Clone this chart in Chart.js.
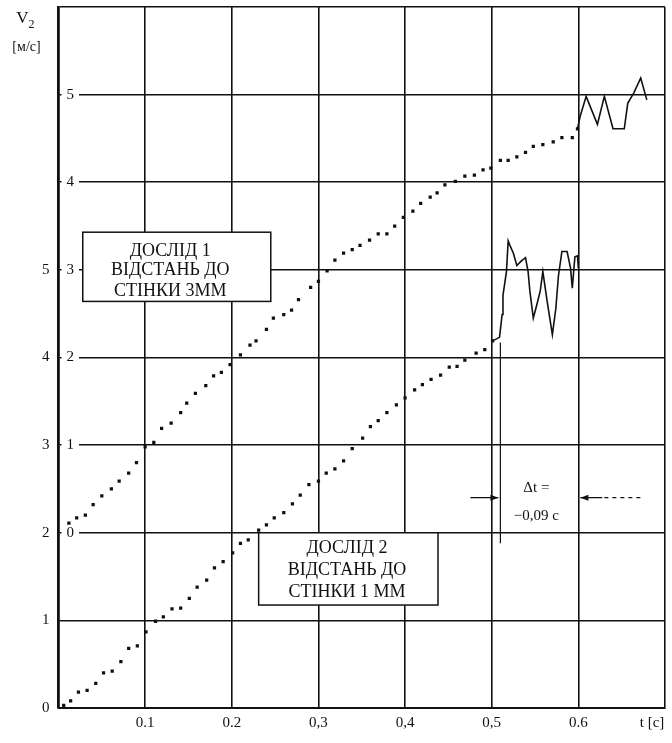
<!DOCTYPE html>
<html>
<head>
<meta charset="utf-8">
<script src="https://cdn.jsdelivr.net/npm/chart.js@4.4.1/dist/chart.umd.min.js"></script>
<style>
    html, body { margin: 0; padding: 0; background: #fff; }
    #wrap { width: 672px; height: 743px; }
</style>
</head>
<body>
<div id="wrap"><canvas id="speed-chart" width="672" height="743"></canvas></div>
<script>
// Дослід 1 (відстань до стінки 3 мм) - шкала зсунута на 2 поділки вгору
const exp1T = [0.012, 0.021, 0.031, 0.040, 0.050, 0.061, 0.070, 0.081, 0.090, 0.100,
    0.110, 0.119, 0.130, 0.141, 0.148, 0.158, 0.170, 0.179, 0.188, 0.198,
    0.210, 0.221, 0.228, 0.240, 0.248, 0.260, 0.269, 0.277, 0.291, 0.300,
    0.310, 0.319, 0.329, 0.339, 0.348, 0.359, 0.369, 0.379, 0.388, 0.398,
    0.409, 0.418, 0.429, 0.437, 0.446, 0.458, 0.469, 0.480, 0.490, 0.499,
    0.510, 0.519, 0.529, 0.539, 0.548, 0.559, 0.571, 0.581, 0.593, 0.599];
const exp1V = [0.11, 0.17, 0.20, 0.32, 0.42, 0.50, 0.59, 0.68, 0.80, 0.98,
    1.03, 1.19, 1.25, 1.37, 1.48, 1.59, 1.68, 1.79, 1.83, 1.92,
    2.03, 2.14, 2.19, 2.32, 2.45, 2.49, 2.54, 2.66, 2.80, 2.87,
    2.99, 3.11, 3.19, 3.23, 3.28, 3.34, 3.41, 3.41, 3.50, 3.60,
    3.67, 3.76, 3.83, 3.88, 3.97, 4.01, 4.07, 4.08, 4.14, 4.16,
    4.25, 4.25, 4.29, 4.34, 4.41, 4.43, 4.46, 4.51, 4.51, 4.61];
const exp1PulseT = [0.599, 0.602, 0.609, 0.622, 0.630, 0.640, 0.653, 0.657, 0.664, 0.672, 0.679];
const exp1PulseV = [4.61, 4.75, 4.98, 4.66, 4.98, 4.61, 4.61, 4.90, 5.02, 5.19, 4.94];

// Дослід 2 (відстань до стінки 1 мм)
const exp2T = [0.006, 0.014, 0.023, 0.033, 0.043, 0.052, 0.062, 0.072, 0.081, 0.091,
    0.101, 0.112, 0.121, 0.131, 0.141, 0.151, 0.160, 0.171, 0.180, 0.190,
    0.201, 0.210, 0.219, 0.231, 0.240, 0.249, 0.260, 0.270, 0.279, 0.289,
    0.300, 0.309, 0.319, 0.329, 0.339, 0.351, 0.360, 0.369, 0.379, 0.390,
    0.400, 0.411, 0.420, 0.430, 0.441, 0.451, 0.460, 0.469, 0.482, 0.492, 0.501];
const exp2V = [0.03, 0.08, 0.18, 0.20, 0.28, 0.40, 0.42, 0.53, 0.68, 0.71,
    0.87, 0.99, 1.04, 1.13, 1.14, 1.25, 1.38, 1.46, 1.60, 1.67,
    1.77, 1.88, 1.92, 2.03, 2.09, 2.17, 2.23, 2.33, 2.43, 2.55,
    2.59, 2.68, 2.73, 2.82, 2.96, 3.08, 3.21, 3.28, 3.37, 3.46,
    3.54, 3.63, 3.69, 3.75, 3.80, 3.89, 3.90, 3.97, 4.05, 4.09, 4.19];
const exp2PulseT = [0.501, 0.509, 0.512, 0.513, 0.517, 0.519, 0.521, 0.525, 0.529, 0.534,
    0.539, 0.542, 0.544, 0.548, 0.552, 0.556, 0.559, 0.564, 0.570, 0.574,
    0.577, 0.581, 0.587, 0.591, 0.593, 0.596, 0.599, 0.600];
const exp2PulseV = [4.19, 4.23, 4.49, 4.71, 4.98, 5.33, 5.28, 5.19, 5.05, 5.10,
    5.14, 4.98, 4.76, 4.45, 4.60, 4.76, 4.98, 4.64, 4.26, 4.56,
    4.93, 5.21, 5.21, 5.02, 4.79, 5.15, 5.16, 5.02];

const xTickLabels = ["", "0.1", "0.2", "0,3", "0,4", "0,5", "0.6", ""];
const yTickLabels = ["0", "1", "2", "3", "4", "5"];
const yShiftedTickLabels = ["0", "1", "2", "3", "4", "5"];

const ink = "#111";
const serif = '"Liberation Serif", "DejaVu Serif", serif';

function pairs(xs, ys) {
    return xs.map((x, i) => ({x: x, y: ys[i]}));
}

// boxes and the delta-t marker, placed in data units of the x / y scales
const noteBoxes = [
    {x0: 0.028, x1: 0.245, y0: 4.64, y1: 5.43, cx: 0.129, lineOffsets: [19, 38, 59],
        lines: ["ДОСЛІД 1", "ВІДСТАНЬ ДО", "СТІНКИ 3ММ"]},
    {x0: 0.231, x1: 0.438, y0: 1.175, y1: 2.0, cx: 0.333, lineOffsets: [16, 38, 60],
        lines: ["ДОСЛІД 2", "ВІДСТАНЬ ДО", "СТІНКИ 1 ММ"]}
];
const deltaT = {t0: 0.510, t1: 0.600, level: 2.40, lineTop: 4.17, lineBottom: 1.88};

function arrowHead(ctx, x, y, dir) {
    ctx.beginPath();
    ctx.moveTo(x, y);
    ctx.lineTo(x - dir * 8, y - 3);
    ctx.lineTo(x - dir * 8, y + 3);
    ctx.closePath();
    ctx.fill();
}

const annotations = {
    id: "annotations",
    beforeDatasetsDraw(chart) {
        const {ctx, scales: {x, y}} = chart;
        ctx.save();
        noteBoxes.forEach(function (b) {
            const left = x.getPixelForValue(b.x0);
            const right = x.getPixelForValue(b.x1);
            const top = y.getPixelForValue(b.y1);
            const bottom = y.getPixelForValue(b.y0);
            ctx.fillStyle = "#fff";
            ctx.fillRect(left, top, right - left, bottom - top);
            ctx.strokeStyle = ink;
            ctx.lineWidth = 1.5;
            ctx.strokeRect(left, top, right - left, bottom - top);
            ctx.fillStyle = ink;
            ctx.font = "18px " + serif;
            ctx.textAlign = "center";
            ctx.textBaseline = "middle";
            b.lines.forEach(function (line, i) {
                ctx.fillText(line, x.getPixelForValue(b.cx), top + b.lineOffsets[i]);
            });
        });
        ctx.restore();
    },
    afterDraw(chart) {
        const {ctx, chartArea, scales: {x, y}} = chart;
        ctx.save();
        ctx.strokeStyle = ink;
        ctx.fillStyle = ink;
        ctx.lineWidth = 1.2;

        // delta t marker
        const xa = x.getPixelForValue(deltaT.t0);
        const xb = x.getPixelForValue(deltaT.t1);
        const ya = y.getPixelForValue(deltaT.level);
        ctx.beginPath();
        ctx.moveTo(xa, y.getPixelForValue(deltaT.lineTop));
        ctx.lineTo(xa, y.getPixelForValue(deltaT.lineBottom));
        ctx.moveTo(xa - 30, ya);
        ctx.lineTo(xa - 2, ya);
        ctx.moveTo(xb + 2, ya);
        ctx.lineTo(xb + 24, ya);
        ctx.stroke();
        ctx.setLineDash([4, 4]);
        ctx.beginPath();
        ctx.moveTo(xb + 26, ya);
        ctx.lineTo(xb + 62, ya);
        ctx.stroke();
        ctx.setLineDash([]);
        arrowHead(ctx, xa - 2, ya, 1);
        arrowHead(ctx, xb + 2, ya, -1);

        ctx.font = "15px " + serif;
        ctx.textAlign = "center";
        ctx.textBaseline = "middle";
        const xm = (xa + xb) / 2 - 3;
        ctx.fillText("Δt =", xm, ya - 10);
        ctx.fillText("−0,09 с", xm, ya + 18);

        // axis names
        ctx.font = "17px " + serif;
        ctx.fillText("V", chartArea.left - 36, chartArea.top + 12);
        ctx.font = "12px " + serif;
        ctx.fillText("2", chartArea.left - 27, chartArea.top + 18);
        ctx.font = "14px " + serif;
        ctx.fillText("[м/с]", chartArea.left - 32, chartArea.top + 40);
        ctx.font = "15px " + serif;
        ctx.fillText("t [с]", x.getPixelForValue(0.7) - 13, chartArea.bottom + 15);
        ctx.restore();
    }
};

const speedChart = new Chart(
    document.getElementById("speed-chart"),
    {
        type: "scatter",
        data: {
            datasets: [
                {
                    label: "Дослід 1",
                    data: pairs(exp1T, exp1V),
                    yAxisID: "y2",
                    pointStyle: "rect",
                    pointRadius: 2.3,
                    pointBorderWidth: 0,
                    pointBackgroundColor: ink,
                    showLine: false
                },
                {
                    label: "Дослід 1, пульсації",
                    data: pairs(exp1PulseT, exp1PulseV),
                    yAxisID: "y2",
                    showLine: true,
                    pointRadius: 0,
                    borderColor: ink,
                    borderWidth: 1.6
                },
                {
                    label: "Дослід 2",
                    data: pairs(exp2T, exp2V),
                    yAxisID: "y",
                    pointStyle: "rect",
                    pointRadius: 2.3,
                    pointBorderWidth: 0,
                    pointBackgroundColor: ink,
                    showLine: false
                },
                {
                    label: "Дослід 2, пульсації",
                    data: pairs(exp2PulseT, exp2PulseV),
                    yAxisID: "y",
                    showLine: true,
                    pointRadius: 0,
                    borderColor: ink,
                    borderWidth: 1.6
                }
            ]
        },
        options: {
            responsive: false,
            animation: false,
            devicePixelRatio: 1,
            layout: {
                padding: {left: 33, right: 7, top: 7, bottom: 5}
            },
            plugins: {
                legend: {display: false},
                tooltip: {enabled: false}
            },
            scales: {
                x: {
                    type: "linear",
                    min: 0,
                    max: 0.7,
                    ticks: {
                        stepSize: 0.1,
                        color: ink,
                        padding: 6,
                        font: {family: serif, size: 15},
                        callback: (value, index) => xTickLabels[index] || ""
                    },
                    grid: {color: ink, lineWidth: 1.6, drawTicks: false, z: -1},
                    border: {color: ink, width: 2},
                    afterFit: scale => {
                        scale.paddingLeft = 0;
                        scale.paddingRight = 0;
                    }
                },
                y: {
                    type: "linear",
                    position: "left",
                    weight: 2,
                    min: 0,
                    max: 8,
                    ticks: {
                        stepSize: 1,
                        color: ink,
                        padding: 9,
                        font: {family: serif, size: 15},
                        callback: value => yTickLabels[value] || ""
                    },
                    grid: {color: ink, lineWidth: 1.6, drawTicks: false, z: -1},
                    border: {color: ink, width: 2.5},
                    afterFit: scale => {
                        scale.paddingTop = 0;
                        scale.paddingBottom = 0;
                    }
                },
                y2: {
                    type: "linear",
                    position: "left",
                    weight: 0,
                    min: -2,
                    max: 6,
                    ticks: {
                        stepSize: 1,
                        mirror: true,
                        padding: 8,
                        color: ink,
                        font: {family: serif, size: 15},
                        showLabelBackdrop: c => c.tick.value >= 0 && c.tick.value <= 5,
                        backdropColor: "#fff",
                        backdropPadding: {left: 5, right: 5, top: 0, bottom: 0},
                        callback: value => value >= 0 ? (yShiftedTickLabels[value] || "") : ""
                    },
                    grid: {display: false, drawTicks: false},
                    border: {display: false},
                    afterFit: scale => {
                        scale.width = 0;
                        scale.paddingTop = 0;
                        scale.paddingBottom = 0;
                    }
                }
            }
        },
        plugins: [annotations]
    }
);
</script>
</body>
</html>
